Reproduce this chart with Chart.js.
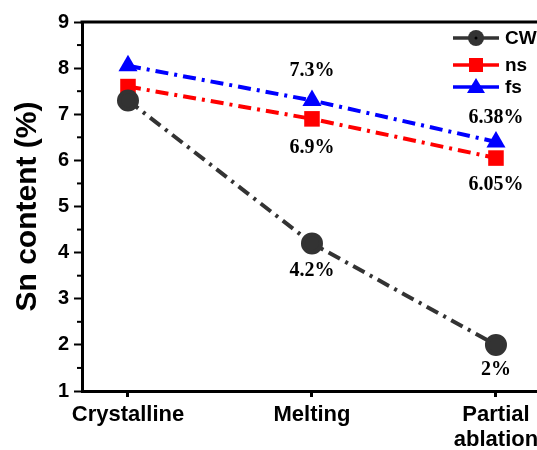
<!DOCTYPE html>
<html>
<head>
<meta charset="utf-8">
<script src="https://cdn.jsdelivr.net/npm/chart.js@4/dist/chart.umd.min.js"></script>
<style>
  html, body { margin: 0; padding: 0; background: #fff; overflow: hidden; }
  #wrap { width: 537px; height: 450px; }
</style>
</head>
<body>
<div id="wrap"><canvas id="snChart" width="537" height="450"></canvas></div>
<script>
// categories and values
const categories = ['Crystalline', 'Melting', ['Partial', 'ablation']];
const cwValues = [7.3, 4.2, 2];
const nsValues = [7.6, 6.9, 6.05];
const fsValues = [8.05, 7.3, 6.4];
const yTicks = [1, 2, 3, 4, 5, 6, 7, 8, 9];

// percentage annotations (dataset index, point index, text)
const annotations = [
    { ds: 2, i: 1, text: '7.3%' },
    { ds: 1, i: 1, text: '6.9%' },
    { ds: 0, i: 1, text: '4.2%' },
    { ds: 0, i: 2, text: '2%' },
    { ds: 2, i: 2, text: '6.38%' },
    { ds: 1, i: 2, text: '6.05%' }
];
// vertical offset of each annotation from its point, in px
const annotationOffsets = [-30, 29, 27, 25, -24, 27];

const toPoints = vals => vals.map((v, i) => ({ x: i, y: v }));

// frame: top border + minor ticks on y axis
const framePlugin = {
    id: 'frame',
    afterDraw(chart) {
        const { ctx, chartArea, scales } = chart;
        ctx.save();
        ctx.strokeStyle = '#000';
        ctx.lineWidth = 3;
        ctx.beginPath();
        ctx.moveTo(chartArea.left - 1.5, chartArea.top);
        ctx.lineTo(chartArea.right, chartArea.top);
        ctx.stroke();
        // minor ticks
        ctx.lineWidth = 2;
        for (let v = 1.5; v < 9; v += 1) {
            const y = scales.y.getPixelForValue(v);
            ctx.beginPath();
            ctx.moveTo(chartArea.left - 1, y);
            ctx.lineTo(chartArea.left - 5, y);
            ctx.stroke();
        }
        ctx.restore();
    }
};

// value labels next to points
const labelPlugin = {
    id: 'valueLabels',
    afterDatasetsDraw(chart) {
        const { ctx } = chart;
        ctx.save();
        ctx.font = 'bold 20px "Liberation Serif", "Times New Roman", serif';
        ctx.fillStyle = '#000';
        ctx.textAlign = 'center';
        ctx.textBaseline = 'middle';
        annotations.forEach((a, k) => {
            const pt = chart.getDatasetMeta(a.ds).data[a.i];
            ctx.fillText(a.text, pt.x, pt.y + annotationOffsets[k]);
        });
        ctx.restore();
    }
};

// legend: line with marker, like the original
const legendPlugin = {
    id: 'lineLegend',
    afterDraw(chart) {
        const { ctx } = chart;
        const x0 = 453, x1 = 499;
        const rows = [38, 65, 87];
        ctx.save();
        chart.data.datasets.forEach((ds, k) => {
            const y = rows[k];
            ctx.strokeStyle = ds.borderColor;
            ctx.lineWidth = 3.5;
            ctx.setLineDash([]);
            ctx.beginPath();
            ctx.moveTo(x0, y);
            ctx.lineTo(x1, y);
            ctx.stroke();
            const cx = (x0 + x1) / 2;
            ctx.fillStyle = ds.pointBackgroundColor;
            ctx.beginPath();
            if (ds.pointStyle === 'circle') {
                ctx.arc(cx, y, 8, 0, Math.PI * 2);
                ctx.fill();
                ctx.fillStyle = '#000';
                ctx.beginPath();
                ctx.arc(cx, y, 1.5, 0, Math.PI * 2);
                ctx.fill();
            } else if (ds.pointStyle === 'rect') {
                ctx.fillRect(cx - 7, y - 7, 14, 14);
            } else {
                ctx.moveTo(cx, y - 9);
                ctx.lineTo(cx + 9, y + 6);
                ctx.lineTo(cx - 9, y + 6);
                ctx.closePath();
                ctx.fill();
            }
            ctx.fillStyle = '#000';
            ctx.font = 'bold 19px "Liberation Sans", Arial, sans-serif';
            ctx.textAlign = 'left';
            ctx.textBaseline = 'middle';
            ctx.fillText(ds.label, x1 + 6, y + 1);
        });
        ctx.restore();
    }
};

const dashDot = [13, 6, 3, 6];

new Chart(document.getElementById('snChart').getContext('2d'), {
    type: 'line',
    data: {
        datasets: [
            {
                label: 'CW',
                data: toPoints(cwValues),
                borderColor: '#333333',
                pointBackgroundColor: '#333333',
                pointBorderColor: '#333333',
                pointStyle: 'circle',
                pointRadius: 9,
                borderWidth: 4,
                borderDash: dashDot
            },
            {
                label: 'ns',
                data: toPoints(nsValues),
                borderColor: '#ff0000',
                pointBackgroundColor: '#ff0000',
                pointBorderColor: '#ff0000',
                pointStyle: 'rect',
                pointRadius: 11,
                pointBorderWidth: 0,
                borderWidth: 4,
                borderDash: dashDot
            },
            {
                label: 'fs',
                data: toPoints(fsValues),
                borderColor: '#0000ff',
                pointBackgroundColor: '#0000ff',
                pointBorderColor: '#0000ff',
                pointStyle: 'triangle',
                pointRadius: 11,
                pointBorderWidth: 0,
                borderWidth: 4,
                borderDash: dashDot
            }
        ]
    },
    options: {
        responsive: false,
        animation: false,
        layout: { autoPadding: false, padding: { top: 22, right: 0, left: 0, bottom: 0 } },
        plugins: {
            legend: { display: false },
            tooltip: { enabled: false }
        },
        scales: {
            x: {
                type: 'linear',
                min: -0.25,
                max: 2.223,
                afterBuildTicks(scale) {
                    scale.ticks = [0, 1, 2].map(v => ({ value: v }));
                },
                afterFit(scale) {
                    scale.height = 59;
                    scale.paddingLeft = 0;
                    scale.paddingRight = 0;
                },
                grid: {
                    drawOnChartArea: false,
                    drawTicks: true,
                    tickLength: 6,
                    tickWidth: 3,
                    tickColor: '#000'
                },
                border: { display: true, color: '#000', width: 3 },
                ticks: {
                    color: '#000',
                    padding: 5,
                    maxRotation: 0,
                    autoSkip: false,
                    font: { family: '"Liberation Sans", Arial, sans-serif', size: 22, weight: 'bold', lineHeight: 1.14 },
                    callback: v => categories[v]
                }
            },
            y: {
                min: 1,
                max: 9,
                afterBuildTicks(scale) {
                    scale.ticks = yTicks.map(v => ({ value: v }));
                },
                afterFit(scale) { scale.width = 82; },
                grid: {
                    drawOnChartArea: false,
                    drawTicks: true,
                    tickLength: 8,
                    tickWidth: 2,
                    tickColor: '#000'
                },
                border: { display: true, color: '#000', width: 3 },
                ticks: {
                    color: '#000',
                    padding: 5,
                    font: { family: '"Liberation Sans", Arial, sans-serif', size: 20, weight: 'bold' }
                },
                title: {
                    display: true,
                    text: 'Sn content (%)',
                    color: '#000',
                    padding: { top: 10, bottom: 0 },
                    font: { family: '"Liberation Sans", Arial, sans-serif', size: 30, weight: 'bold' }
                }
            }
        }
    },
    plugins: [framePlugin, labelPlugin, legendPlugin]
});
</script>
</body>
</html>
